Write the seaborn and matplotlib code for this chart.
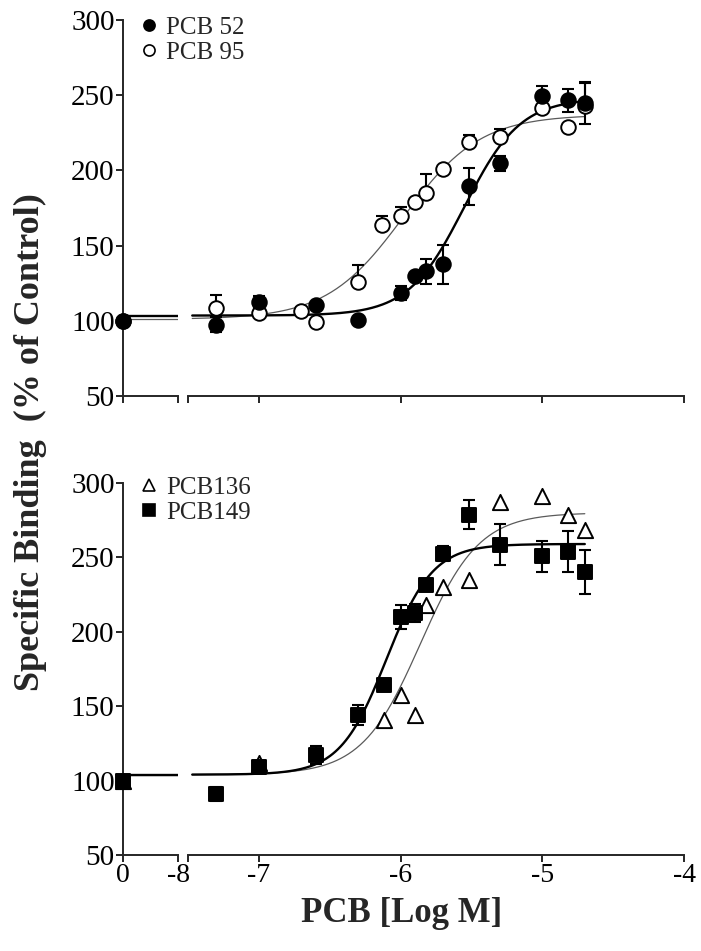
import numpy as np
import matplotlib
matplotlib.use("Agg")
from matplotlib import pyplot as plt
from matplotlib.lines import Line2D
import seaborn as sns

# top panel data (log M, % of control, SEM)
x_pcb52 = [-7.3, -7.0, -6.6, -6.3, -6.0, -5.9, -5.82, -5.7, -5.52, -5.3, -5.0, -4.82, -4.7]
y_pcb52 = [97.3, 112.5, 110.6, 100.2, 118.2, 130.0, 132.8, 137.7, 189.3, 204.8, 249.2, 246.5, 245.0]
e_pcb52 = [5.0, 4.0, 0.0, 0.0, 4.7, 0.0, 8.5, 13.0, 12.0, 5.0, 7.0, 7.8, 14.0]

x_pcb95 = [-7.3, -7.0, -6.7, -6.6, -6.3, -6.13, -6.0, -5.9, -5.82, -5.7, -5.52, -5.3, -5.0, -4.82, -4.7]
y_pcb95 = [108.4, 105.1, 106.2, 98.9, 125.5, 163.4, 169.8, 179.3, 184.9, 200.8, 219.2, 222.1, 241.4, 228.8, 243.0]
e_pcb95 = [9.0, 0.0, 3.0, 0.0, 11.8, 6.0, 6.0, 2.0, 12.4, 2.0, 4.4, 5.5, 0.0, 0.0, 15.0]

# bottom panel data
x_pcb149 = [-7.3, -7.0, -6.6, -6.3, -6.12, -6.0, -5.9, -5.82, -5.7, -5.52, -5.3, -5.0, -4.82, -4.7]
y_pcb149 = [91.0, 109.3, 117.2, 143.8, 164.5, 209.7, 212.7, 231.7, 252.5, 278.8, 258.6, 250.7, 253.9, 240.2]
e_pcb149 = [4.7, 2.0, 6.0, 6.7, 0.0, 8.0, 6.0, 0.0, 5.0, 9.9, 13.9, 10.4, 14.0, 14.8]

x_pcb136 = [-7.0, -6.12, -6.0, -5.9, -5.82, -5.7, -5.52, -5.3, -5.0, -4.82, -4.7]
y_pcb136 = [111.6, 140.9, 157.3, 144.4, 218.3, 229.9, 235.0, 287.3, 291.0, 278.3, 268.7]

control = 100.0

# fitted sigmoid parameters: bottom, top, logEC50, hill
fit_pcb52 = (103.5, 248.0, -5.55, 2.2)
fit_pcb95 = (101.0, 237.0, -5.98, 1.6)
fit_pcb149 = (104.0, 259.0, -6.10, 2.65)
fit_pcb136 = (104.0, 280.0, -5.86, 2.1)


def sigmoid(x, p):
    bottom, top, ec50, hill = p
    return bottom + (top - bottom) / (1 + 10 ** ((ec50 - x) * hill))


sns.set_style("ticks")
plt.rcParams['font.family'] = ['Liberation Serif', 'DejaVu Serif']
plt.rcParams['axes.unicode_minus'] = False
plt.rcParams['axes.linewidth'] = 1.4

W, H = 701, 951
fig = plt.figure(figsize=(W / 100, H / 100), dpi=100)


def box(x0, x1, y0, y1):
    return [x0 / W, 1 - y1 / H, (x1 - x0) / W, (y1 - y0) / H]


panels = [(20, 396), (483, 855)]
axes = []
for (y0, y1) in panels:
    axl = fig.add_axes(box(123, 178, y0, y1))
    axr = fig.add_axes(box(188, 684, y0, y1))
    axes.append((axl, axr))

xfit = np.linspace(-7.47, -4.7, 300)


def draw_series(axl, axr, xs, ys, errs, fit, filled, marker, size, curve_color, curve_lw, err_mode, label):
    face = 'black' if filled else 'white'
    # fit curve
    sns.lineplot(x=xfit, y=sigmoid(xfit, fit), ax=axr, color=curve_color, lw=curve_lw, zorder=2)
    sns.lineplot(x=[0, 1], y=[fit[0], fit[0]], ax=axl, color=curve_color, lw=curve_lw, zorder=2)
    # error bars
    if errs is not None:
        e = np.array(errs)
        if err_mode == 'up':
            yerr = [np.zeros_like(e), e]
        else:
            yerr = [e, e]
        axr.errorbar(xs, ys, yerr=yerr, fmt='none', ecolor='black', elinewidth=1.5,
                     capsize=4.5, capthick=1.5, zorder=3)
    sns.scatterplot(x=xs, y=ys, ax=axr, marker=marker, s=size, color=face,
                    edgecolor='black', linewidth=1.4, zorder=4, legend=False)
    sns.scatterplot(x=[0], y=[control], ax=axl, marker=marker, s=size, color=face,
                    edgecolor='black', linewidth=1.4, zorder=4, legend=False, clip_on=False)
    return Line2D([], [], marker=marker, ls='none', markerfacecolor=face, markeredgecolor='black',
                  markeredgewidth=1.2, markersize=8 if marker == 'o' else 9, label=label)


(a1l, a1r), (a2l, a2r) = axes
h95 = draw_series(a1l, a1r, x_pcb95, y_pcb95, e_pcb95, fit_pcb95, False, 'o', 110, '#5a5a5a', 0.9, 'up', 'PCB 95')
h52 = draw_series(a1l, a1r, x_pcb52, y_pcb52, e_pcb52, fit_pcb52, True, 'o', 110, 'black', 1.7, 'both', 'PCB 52')
h136 = draw_series(a2l, a2r, x_pcb136, y_pcb136, None, fit_pcb136, False, '^', 120, '#5a5a5a', 0.9, 'up', 'PCB136')
h149 = draw_series(a2l, a2r, x_pcb149, y_pcb149, e_pcb149, fit_pcb149, True, 's', 100, 'black', 1.7, 'both', 'PCB149')

for i, (axl, axr) in enumerate(axes):
    for ax in (axl, axr):
        ax.set_ylim(50, 300)
        ax.spines['top'].set_visible(False)
        ax.spines['right'].set_visible(False)
        ax.set_xlabel('')
        ax.set_ylabel('')
        ax.tick_params(axis='both', direction='out', length=5, width=1.4, labelsize=21, pad=1,
                       labelcolor='black')
    axl.set_xlim(0, 1)
    axl.set_xticks([0, 1])
    axl.set_yticks([50, 100, 150, 200, 250, 300])
    axr.set_xlim(-7.5, -4)
    axr.set_xticks([-7.5, -7, -6, -5, -4])
    axr.spines['left'].set_visible(False)
    axr.tick_params(axis='y', left=False, labelleft=False)
    if i == 0:
        axl.set_xticklabels(['', ''])
        axr.set_xticklabels(['', '', '', '', ''])
    else:
        axl.set_xticklabels(['0', '-8'])
        axr.set_xticklabels(['', '-7', '-6', '-5', '-4'])
    axl.tick_params(axis='x', labelsize=20)
    axr.tick_params(axis='x', labelsize=20)

leg_kw = dict(loc='upper left', frameon=False, fontsize=18, handlelength=0.7, handletextpad=0.35,
              labelspacing=0.12, borderaxespad=0, borderpad=0)
fig.legend(handles=[h52, h95], bbox_to_anchor=(140 / W, 1 - 16 / H), **leg_kw)
fig.legend(handles=[h136, h149], bbox_to_anchor=(140 / W, 1 - 476 / H), **leg_kw)

fig.text(30 / W, 1 - 442 / H, 'Specific Binding  (% of Control)', rotation=90, fontsize=26,
         fontweight='bold', ha='center', va='center')
fig.text(402 / W, 1 - 914 / H, 'PCB [Log M]', fontsize=25, fontweight='bold', ha='center', va='center')

fig.savefig('out.png', dpi=100)
